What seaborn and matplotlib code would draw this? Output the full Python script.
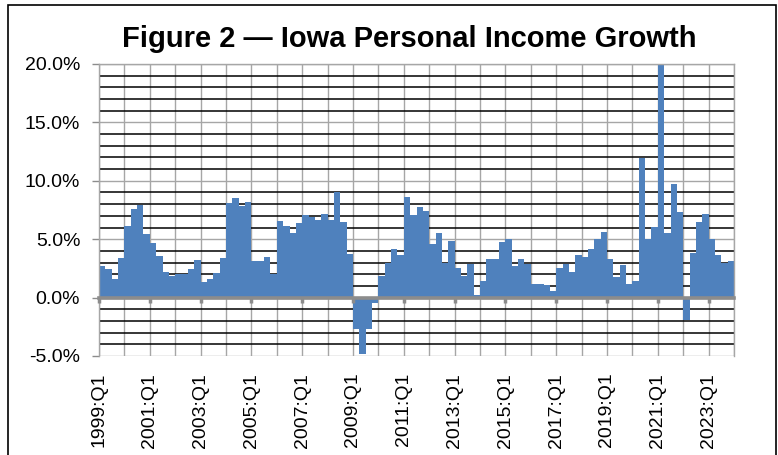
import numpy as np
import pandas as pd
import seaborn as sns
import matplotlib.pyplot as plt
from matplotlib.patches import Rectangle
from matplotlib.ticker import MultipleLocator, FuncFormatter

# quarterly personal income growth, percent (1999:Q1 .. 2023:Q4)
years = list(range(1999, 2024))
quarters = [f"{y}:Q{q}" for y in years for q in range(1, 5)]
growth = [
    2.70, 2.41, 1.56, 3.38, 6.16, 7.55, 7.94, 5.42, 4.68, 3.55,
    2.18, 1.85, 2.01, 2.01, 2.41, 3.18, 1.36, 1.62, 2.13, 3.38,
    8.11, 8.51, 7.86, 8.17, 3.12, 3.10, 3.46, 2.04, 6.58, 6.13,
    5.53, 6.41, 7.06, 6.87, 6.67, 7.12, 6.67, 9.08, 6.47, 3.72,
    -2.72, -4.80, -2.67, -0.45, 1.84, 3.00, 4.14, 3.69, 8.62, 7.04,
    7.72, 7.38, 4.62, 5.50, 3.00, 4.82, 2.50, 1.84, 2.89, 0.23,
    1.39, 3.32, 3.29, 4.77, 5.00, 2.70, 3.32, 2.86, 1.19, 1.13,
    1.05, 0.57, 2.55, 2.89, 2.16, 3.69, 3.46, 4.17, 4.99, 5.59,
    3.29, 1.76, 2.75, 1.13, 1.42, 11.94, 5.00, 6.02, 22.0, 5.51,
    9.70, 7.29, -1.93, 3.83, 6.47, 7.20, 5.04, 3.69, 2.95, 3.12,
]
label_every = 8
title = "Figure 2 \u2014 Iowa Personal Income Growth"

df = pd.DataFrame({"quarter": quarters, "growth": growth})

plt.rcParams['font.family'] = ['Liberation Sans', 'DejaVu Sans']
gray = "#8c8c8c"
grid_gray = "#a6a6a6"

W, H = 778, 455
fig = plt.figure(figsize=(W / 100, H / 100), dpi=100)
ax = fig.add_axes([99 / W, 1 - 356 / H, 635 / W, 292 / H])

sns.barplot(data=df, x="quarter", y="growth", color="#4F81BD", saturation=1,
            width=1.0, linewidth=0, ax=ax)

n = len(quarters)
ax.set_xlim(-0.5, n - 0.5)
ax.set_ylim(-5, 20)
ax.set_axisbelow(True)

# y axis
ax.set_yticks(np.arange(-5, 21, 5))
ax.yaxis.set_minor_locator(MultipleLocator(1))
ax.yaxis.set_major_formatter(FuncFormatter(lambda v, p: f"{v:.1f}%"))
ax.tick_params(axis="y", which="major", length=5, width=1, color=gray,
               pad=8.5, labelsize=14)
ax.tick_params(axis="y", which="minor", length=0)

# x axis labels at the bottom
pos = np.arange(0, n, label_every) - 0.5
ax.set_xticks(pos, [quarters[i] for i in range(0, n, label_every)])
ax.set_xticks(np.arange(0, n + 1, 4) - 0.5, minor=True)
ax.tick_params(axis="x", which="both", length=0, pad=12, labelsize=14,
               labelrotation=90)
ax.set_xlabel("")
ax.set_ylabel("")

ax.grid(axis="y", which="major", color=grid_gray, linewidth=1.0)
ax.grid(axis="y", which="minor", color="black", linewidth=1.1)
ax.grid(axis="x", which="both", color=grid_gray, linewidth=1.0)

for s in ["left", "top", "right"]:
    ax.spines[s].set_color(grid_gray)
    ax.spines[s].set_linewidth(1.0)
ax.spines["bottom"].set_visible(False)

# zero axis with tick marks
sec = ax.secondary_xaxis(5 / 25)
sec.set_xticks(pos)
sec.tick_params(axis="x", labelbottom=False, length=3.5, width=2.5,
                color=gray, direction="out")
sec.spines["bottom"].set_color(gray)
sec.spines["bottom"].set_linewidth(2.6)
sec.set_zorder(5)

fig.text(409 / W, 1 - 47 / H, title, ha="center", va="baseline",
         fontsize=21, fontweight="bold")

fig.patches.append(Rectangle((8 / W, -0.05), 768 / W, 1.05 - 5 / H,
                             transform=fig.transFigure, fill=False,
                             edgecolor="black", linewidth=1.2))

plt.savefig("out.png", dpi=100)
